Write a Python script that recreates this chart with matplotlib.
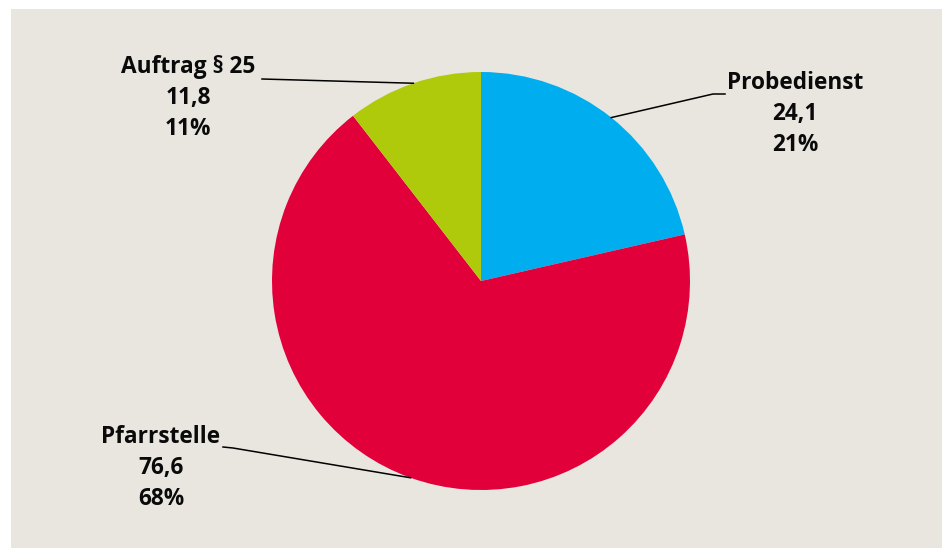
import numpy as np
import matplotlib.pyplot as plt
from matplotlib.patches import Rectangle

# Stellenanteile
labels = ["Probedienst", "Pfarrstelle", "Auftrag § 25"]
values = [24.1, 76.6, 11.8]
percents = ["21%", "68%", "11%"]
colors = ["#00aeef", "#e2003b", "#afca0b"]

plt.rcParams['font.family'] = ['Open Sans', 'DejaVu Sans']

W, H = 942, 548
fig = plt.figure(figsize=(W / 100, H / 100), dpi=100)
fig.patch.set_facecolor('white')
ax = fig.add_axes([0, 0, 1, 1])
ax.set_xlim(0, W)
ax.set_ylim(0, H)
ax.set_aspect('equal')
ax.axis('off')

# beige Hintergrundfläche
ax.add_patch(Rectangle((11, 0), W - 11, H - 9, facecolor='#e9e6e0', edgecolor='none', zorder=0))

cx, cy, r = 481, H - 281, 209
wedges, _ = ax.pie(values, colors=colors, startangle=90, counterclock=False,
                   radius=r, center=(cx, cy), frame=True,
                   wedgeprops=dict(linewidth=0))
ax.set_xlim(0, W)
ax.set_ylim(0, H)
ax.axis('off')

# Beschriftung: (Textmitte, Knickpunkte der Führungslinie)
label_pos = [(795, H - 114), (161, H - 468), (188, H - 98)]
elbows = [[(713, H - 94), (725, H - 94)],
          [(233, H - 448), (223, H - 447)],
          [(262, H - 79)]]

for w, lab, val, pct, (tx, ty), elb in zip(wedges, labels, values, percents, label_pos, elbows):
    ang = np.deg2rad((w.theta1 + w.theta2) / 2)
    px, py = cx + r * np.cos(ang), cy + r * np.sin(ang)
    xs = [px] + [e[0] for e in elb]
    ys = [py] + [e[1] for e in elb]
    ax.plot(xs, ys, color='black', linewidth=1.1, zorder=3)
    txt = f"{lab}\n{val:.1f}".replace('.', ',') + f"\n{pct}"
    ax.text(tx, ty, txt, ha='center', va='center', fontsize=16.3,
            fontweight='bold', color='#0a0a0a', linespacing=1.38, zorder=4)

plt.savefig("out.png", dpi=100, facecolor=fig.get_facecolor())
